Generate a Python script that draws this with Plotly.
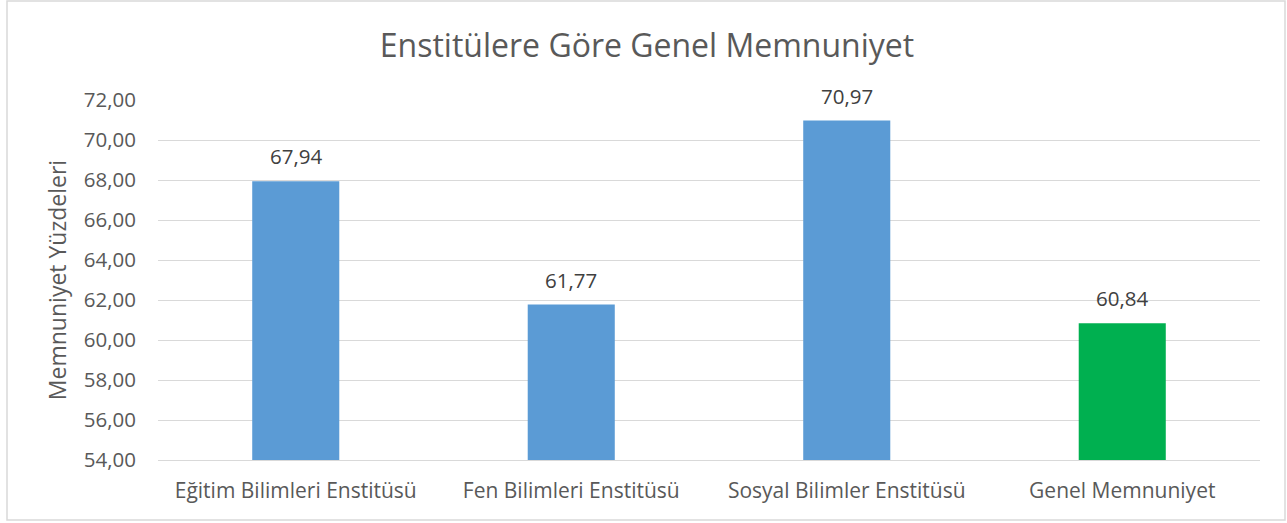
import plotly.graph_objects as go

categories = ["Eğitim Bilimleri Enstitüsü", "Fen Bilimleri Enstitüsü",
              "Sosyal Bilimler Enstitüsü", "Genel Memnuniyet"]
values = [67.94, 61.77, 70.97, 60.84]
bar_colors = ["#5B9BD5", "#5B9BD5", "#5B9BD5", "#00B050"]
y_ticks = [54, 56, 58, 60, 62, 64, 66, 68, 70, 72]

FONT = "'Open Sans', sans-serif"
W, H = 1287, 523
ml, mr, mt, mb = 158, 27, 100, 63
pw, ph = W - ml - mr, H - mt - mb

fig = go.Figure(go.Bar(
    x=categories, y=values, marker=dict(color=bar_colors, line_width=0),
    base=0,
))

for c, v in zip(categories, values):
    fig.add_annotation(x=c, y=v, text=f"{v:.2f}".replace(".", ","),
                       showarrow=False, yanchor="bottom", yshift=9,
                       font=dict(family=FONT, size=20.5, color="#404040"))

# chart border
fig.add_shape(type="rect", xref="paper", yref="paper",
              x0=(7 - ml) / pw, x1=(1285 - ml) / pw,
              y0=(H - mb - 520) / ph, y1=(H - mb - 1) / ph,
              line=dict(color="#D9D9D9", width=1.5), fillcolor="rgba(0,0,0,0)",
              layer="below")

fig.update_layout(
    width=W, height=H,
    margin=dict(l=ml, r=mr, t=mt, b=mb),
    paper_bgcolor="white", plot_bgcolor="white",
    separators=",.",
    bargap=0.684,
    showlegend=False,
    title=dict(text="Enstitülere Göre Genel Memnuniyet", x=647 / W, xanchor="center",
               y=1 - 46 / H, yanchor="middle",
               font=dict(family=FONT, size=32, color="#595959")),
    xaxis=dict(showgrid=False, showline=True, linecolor="#D9D9D9", linewidth=1,
               ticks="", tickfont=dict(family=FONT, size=21, color="#595959"),
               ticklabelstandoff=12),
    yaxis=dict(range=[54, 72], tickvals=y_ticks, tickformat=".2f",
               showgrid=True, gridcolor="#D9D9D9", gridwidth=1, zeroline=False,
               showline=False, ticks="",
               tickfont=dict(family=FONT, size=20.5, color="#595959"),
               ticklabelstandoff=21,
               title=dict(text="Memnuniyet Yüzdeleri", standoff=10,
                          font=dict(family=FONT, size=23, color="#595959"))),
    font=dict(family=FONT),
)

fig.write_html("out.html", config={"displayModeBar": False},
               post_script="document.body.style.margin='0';")
